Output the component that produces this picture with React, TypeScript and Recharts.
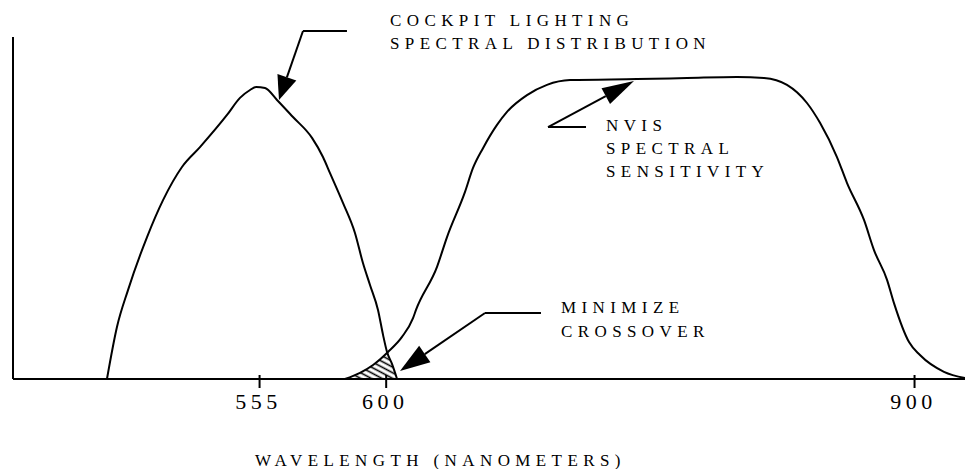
import React from 'react'
import {
  ComposedChart,
  Line,
  Area,
  XAxis,
  YAxis,
  ReferenceLine,
  Customized,
} from 'recharts'

// horizontal position is in schematic units (0-100), the scale in the source is not linear
const COCKPIT_X = [9.87, 10.92, 12.08, 14.08, 15.76, 17.75, 19.64, 22.48, 23.84, 24.9, 25.53, 26.47, 27.73, 29.41, 31.41, 32.56, 33.3, 34.66, 35.92, 36.76, 37.5, 38.34, 38.87, 39.29, 39.81, 40.34]
const COCKPIT_Y = [0, 15.2, 26.0, 41.5, 52.3, 62.0, 67.8, 77.2, 82.2, 84.5, 85.4, 85.1, 81.6, 76.6, 70.5, 64.9, 60.2, 51.5, 42.7, 33.9, 27.5, 20.2, 12.9, 7.9, 4.4, 0]

const NVIS_X = [34.87, 36.45, 37.82, 39.39, 40.86, 42.02, 42.33, 44.54, 45.59, 47.48, 48.32, 49.37, 50.84, 51.89, 53.99, 56.09, 58.51, 65.55, 70.8, 76.05, 78.89, 81.3, 83.4, 84.77, 86.55, 87.61, 89.39, 90.44, 91.81, 92.54, 94.12, 95.27, 97.79, 100]
const NVIS_Y = [0, 1.8, 4.1, 7.9, 12.3, 17.8, 20.2, 32.8, 41.5, 54.7, 61.7, 67.5, 74.3, 78.1, 83.0, 86.0, 87.4, 87.7, 88.0, 88.3, 88.0, 86.0, 80.7, 74.9, 64.9, 57.3, 46.5, 37.7, 29.0, 22.2, 10.8, 7.0, 2.1, 0.3]

const OVERLAP_X = [34.87, 36.45, 37.82, 39.35, 39.81, 40.34]
const OVERLAP_Y = [0, 1.8, 4.1, 7.9, 4.4, 0]

const TICK_POS = [25.9, 39.2, 94.7]
const TICK_LABELS = ['555', '600', '900']

const cockpit = COCKPIT_X.map((x, i) => ({ x, y: COCKPIT_Y[i] }))
const nvis = NVIS_X.map((x, i) => ({ x, y: NVIS_Y[i] }))
const overlap = OVERLAP_X.map((x, i) => ({ x, y: OVERLAP_Y[i] }))

const FONT = '"Liberation Serif", "DejaVu Serif", serif'

const arrow = (len: number, half: number) => (p: any) => {
  const { x1, y1, x2, y2 } = p
  const dx = x2 - x1
  const dy = y2 - y1
  const d = Math.hypot(dx, dy) || 1
  const ux = dx / d
  const uy = dy / d
  const bx = x2 - ux * len
  const by = y2 - uy * len
  const pts = `${x2},${y2} ${bx - uy * half},${by + ux * half} ${bx + uy * half},${by - ux * half}`
  return (
    <g>
      <line x1={x1} y1={y1} x2={bx} y2={by} stroke="#000" strokeWidth={2} />
      <polygon points={pts} fill="#000" />
    </g>
  )
}

const textStyle = { fontFamily: FONT, fontSize: 17, letterSpacing: 5.4, fill: '#000' }

const Notes = () => (
  <g>
    <text x={382} y={18} style={textStyle}>COCKPIT LIGHTING</text>
    <text x={382} y={41} style={textStyle}>SPECTRAL DISTRIBUTION</text>
    <text x={598} y={123} style={textStyle}>NVIS</text>
    <text x={598} y={146} style={textStyle}>SPECTRAL</text>
    <text x={598} y={169} style={textStyle}>SENSITIVITY</text>
    <text x={553} y={305} style={textStyle}>MINIMIZE</text>
    <text x={553} y={329} style={textStyle}>CROSSOVER</text>
    <text x={247} y={458} style={textStyle}>WAVELENGTH (NANOMETERS)</text>
  </g>
)

const Tick = (props: any) => {
  const { x, y, payload } = props
  const i = TICK_POS.indexOf(payload.value)
  return (
    <g>
      <line x1={x} y1={y - 4} x2={x} y2={y + 9} stroke="#000" strokeWidth={2} />
      <text
        x={x - 1}
        y={y + 30}
        textAnchor="middle"
        style={{ fontFamily: FONT, fontSize: 22, letterSpacing: 4.5, fill: '#000' }}
      >
        {TICK_LABELS[i]}
      </text>
    </g>
  )
}

export default function App() {
  return (
    <div style={{ width: 966, height: 461, background: '#fff' }}>
      <ComposedChart
        width={966}
        height={461}
        margin={{ top: 29, right: 9, bottom: 0, left: 4 }}
        style={{ overflow: 'visible' }}
      >
        <defs>
          <pattern id="hatch" patternUnits="userSpaceOnUse" width={5} height={5} patternTransform="rotate(28)">
            <line x1={0} y1={1.5} x2={5} y2={1.5} stroke="#000" strokeWidth={1.6} />
          </pattern>
        </defs>
        <XAxis
          type="number"
          dataKey="x"
          domain={[0, 100]}
          ticks={TICK_POS}
          allowDataOverflow
          height={90}
          tickSize={0}
          tickMargin={0}
          tickLine={false}
          tick={<Tick />}
          axisLine={{ stroke: '#000', strokeWidth: 2 }}
        />
        <YAxis
          type="number"
          domain={[0, 100]}
          width={1}
          tick={false}
          tickLine={false}
          axisLine={{ stroke: '#000', strokeWidth: 2 }}
        />
        <Area
          data={overlap}
          dataKey="y"
          type="linear"
          stroke="none"
          fill="url(#hatch)"
          fillOpacity={1}
          isAnimationActive={false}
        />
        <Line data={cockpit} dataKey="y" type="monotone" stroke="#000" strokeWidth={2} dot={false} isAnimationActive={false} />
        <Line data={nvis} dataKey="y" type="monotone" stroke="#000" strokeWidth={2} dot={false} isAnimationActive={false} />

        <ReferenceLine segment={[{ x: 30.46, y: 101.75 }, { x: 35.08, y: 101.75 }]} stroke="#000" strokeWidth={2} ifOverflow="visible" />
        <ReferenceLine segment={[{ x: 30.46, y: 101.75 }, { x: 27.94, y: 81.58 }]} ifOverflow="visible" shape={arrow(24, 10)} />
        <ReferenceLine segment={[{ x: 56.2, y: 73.68 }, { x: 60.19, y: 73.68 }]} stroke="#000" strokeWidth={2} ifOverflow="visible" />
        <ReferenceLine segment={[{ x: 56.2, y: 73.68 }, { x: 65.23, y: 87.13 }]} ifOverflow="visible" shape={arrow(32, 9)} />
        <ReferenceLine segment={[{ x: 49.58, y: 19.3 }, { x: 55.46, y: 19.3 }]} stroke="#000" strokeWidth={2} ifOverflow="visible" />
        <ReferenceLine segment={[{ x: 49.58, y: 19.3 }, { x: 40.65, y: 2.34 }]} ifOverflow="visible" shape={arrow(30, 10)} />

        <Customized component={Notes} />
      </ComposedChart>
    </div>
  )
}
